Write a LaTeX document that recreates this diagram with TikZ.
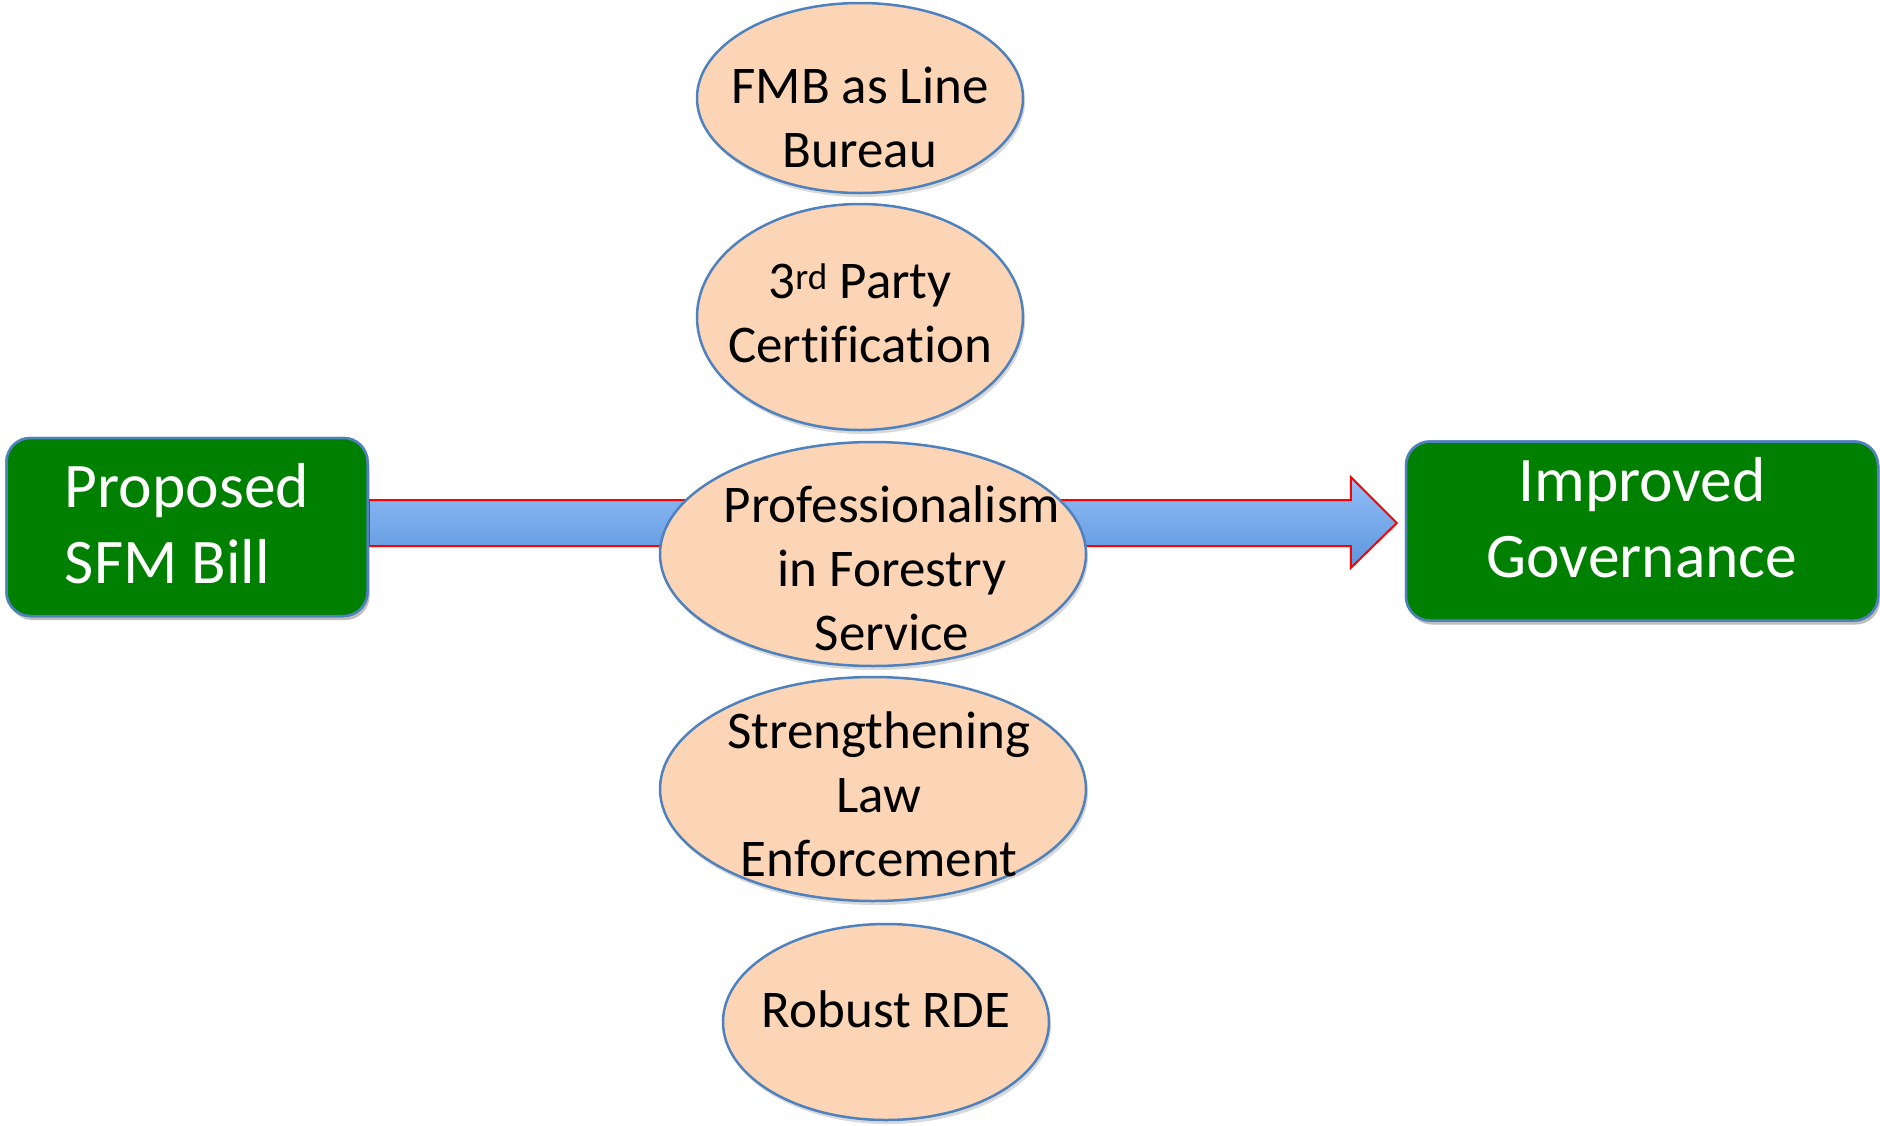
\documentclass[tikz,border=0pt]{standalone}
\usepackage{fontspec}
\setmainfont{Carlito}[Ligatures=CommonOff]
\usetikzlibrary{shapes.geometric,shadows,calc}

\definecolor{boxgreen}{RGB}{0,128,0}
\definecolor{edgeblue}{RGB}{79,129,189}
\definecolor{peach}{RGB}{251,213,181}
\definecolor{shafttop}{RGB}{147,191,247}
\definecolor{shaftbot}{RGB}{91,149,222}

\tikzset{
    greenbox/.style={draw=edgeblue, line width=2.5pt, fill=boxgreen, rounded corners=24pt,
        drop shadow={opacity=0.3, shadow xshift=2pt, shadow yshift=-4pt}},
    boxtext/.style={text=white, align=center, font=\fontsize{63.5}{76}\selectfont},
    oval/.style={ellipse, draw=edgeblue, line width=2.5pt, fill=peach, inner sep=0pt,
        drop shadow={opacity=0.3, shadow xshift=2pt, shadow yshift=-4pt}},
    ovaltext/.style={align=center, font=\fontsize{53}{64}\selectfont}
}

\begin{document}
\begin{tikzpicture}[x=1pt, y=-1pt]
        \useasboundingbox (0,0) rectangle (1880,1125);

        % ==== END BOXES ====
        \node[greenbox, minimum width=361pt, minimum height=178pt] (sfm) at (187,527) {};
        \node[greenbox, minimum width=472pt, minimum height=179pt] (gov) at (1642,531) {};

        % ==== BIG ARROW ====
        \coordinate (tail) at ($(sfm.east)+(0,-4)$);
        \coordinate (tip) at ($(gov.west)+(-8,-8)$);
        \shade[top color=shafttop, bottom color=shaftbot, draw=red, line width=2pt]
            ($(tail)+(0,-23)$) -- ($(tip)+(-46,-23)$) -- ($(tip)+(-46,-46)$) -- (tip)
            -- ($(tip)+(-46,45)$) -- ($(tip)+(-46,23)$) -- ($(tail)+(0,23)$) -- cycle;

        % redraw boxes over the arrow ends
        \node[greenbox, minimum width=361pt, minimum height=178pt] at (sfm) {};
        \node[boxtext, align=left] (sfm-t) at ([yshift=3]sfm.center) {Proposed\\SFM Bill};
        \node[greenbox, minimum width=472pt, minimum height=179pt] at (gov) {};
        \node[boxtext] (gov-t) at ([yshift=13]gov.center) {Improved\\Governance};

        % ==== OVALS ====
        \node[oval, minimum width=326pt, minimum height=190pt] (fmb) at (860,98) {};
        \node[oval, minimum width=326pt, minimum height=226pt] (tpc) at (860,317) {};
        \node[oval, minimum width=426pt, minimum height=224pt] (prof) at (873,554) {};
        \node[oval, minimum width=426pt, minimum height=224pt] (law) at (873,789) {};
        \node[oval, minimum width=326pt, minimum height=196pt] (rde) at (886,1022) {};

        % === LABELS ===
        \node[ovaltext] (fmb-t) at ([yshift=-19]fmb.center) {FMB as Line\\Bureau};
        \node[ovaltext] (tpc-t) at ([yshift=4]tpc.center) {3\textsuperscript{rd} Party\\Certification};
        \node[ovaltext] (prof-t) at ([xshift=19,yshift=-14]prof.center) {Professionalism\\in Forestry\\Service};
        \node[ovaltext] (law-t) at ([xshift=6,yshift=-5]law.center) {Strengthening\\Law\\Enforcement};
        \node[ovaltext] (rde-t) at ([yshift=13]rde.center) {Robust RDE};

    \end{tikzpicture}
\end{document}
